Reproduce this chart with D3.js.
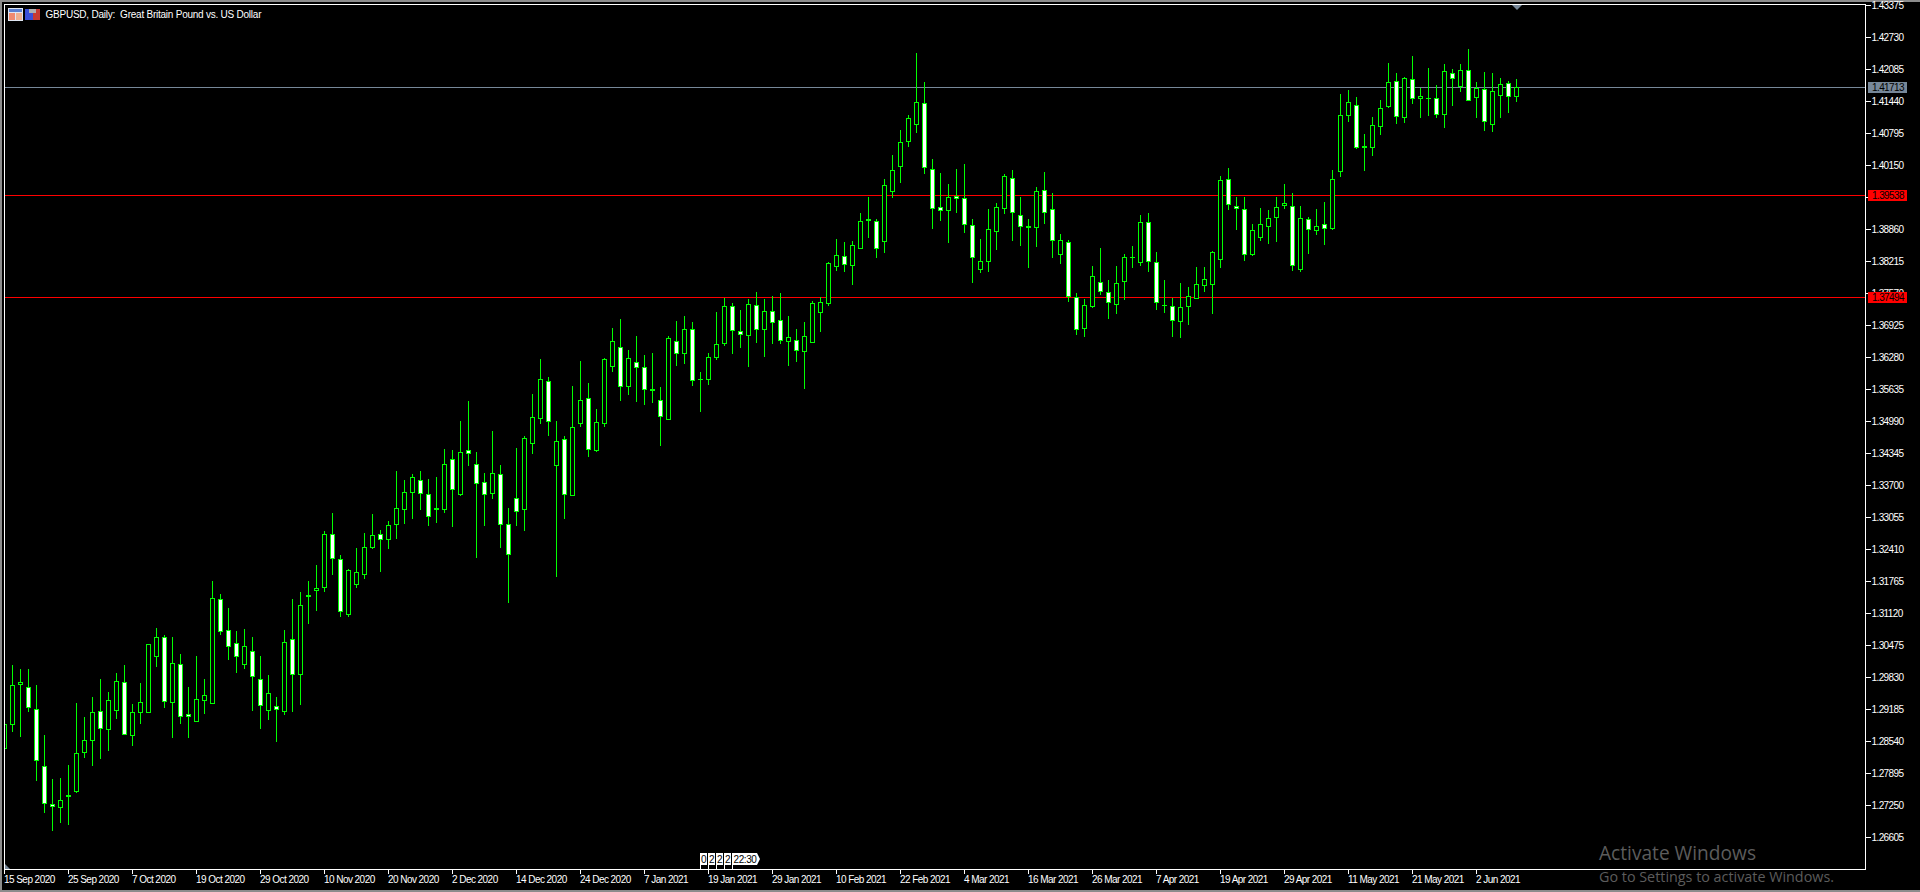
<!DOCTYPE html>
<html><head><meta charset="utf-8">
<script src="https://cdn.jsdelivr.net/npm/d3@7"></script>
<style>
html,body{margin:0;padding:0;background:#000;overflow:hidden}
svg{display:block}
text{font-family:"Liberation Sans",Arial,sans-serif;font-size:10px;white-space:pre}
</style></head><body><div id="c"></div>
<script>
const title="GBPUSD, Daily:  Great Britain Pound vs. US Dollar";
const priceTicks=[1.43375,1.42730,1.42085,1.41440,1.40795,1.40150,1.39505,1.38860,1.38215,1.37570,1.36925,1.36280,1.35635,1.34990,1.34345,1.33700,1.33055,1.32410,1.31765,1.31120,1.30475,1.29830,1.29185,1.28540,1.27895,1.27250,1.26605];
const dateLabels=["15 Sep 2020","25 Sep 2020","7 Oct 2020","19 Oct 2020","29 Oct 2020","10 Nov 2020","20 Nov 2020","2 Dec 2020","14 Dec 2020","24 Dec 2020","7 Jan 2021","19 Jan 2021","29 Jan 2021","10 Feb 2021","22 Feb 2021","4 Mar 2021","16 Mar 2021","26 Mar 2021","7 Apr 2021","19 Apr 2021","29 Apr 2021","11 May 2021","21 May 2021","2 Jun 2021"];
const barsPerDateLabel=8;
const priceLines=[1.41713,1.39538,1.37494];
const priceLineColors=["#778899","#ff0000","#ff0000"];
const opens=[1.28390,1.28874,1.29667,1.29627,1.29183,1.28034,1.27268,1.27201,1.27450,1.27524,1.28310,1.28552,1.29143,1.28774,1.29157,1.29728,1.28653,1.29116,1.29116,1.30245,1.30635,1.29318,1.30091,1.29083,1.28935,1.29358,1.29298,1.31401,1.30776,1.30514,1.30084,1.30353,1.29788,1.29143,1.29244,1.29136,1.30595,1.29869,1.31482,1.31562,
1.31636,1.32711,1.32207,1.31092,1.31696,1.31898,1.32442,1.32711,1.32604,1.32906,1.33208,1.33551,1.33800,1.33517,1.33235,1.33208,1.34223,1.33511,1.34404,1.34122,1.33759,1.33531,1.33921,1.32913,1.33437,1.33208,1.34539,1.35029,1.35795,1.34095,1.34626,1.33491,1.34929,1.35452,1.34398,1.34941,1.36090,1.36480,1.35687,1.36178,
1.36077,1.35640,1.35412,1.35022,1.36601,1.36352,1.36843,1.35828,1.35828,1.36272,1.36554,1.37307,1.36803,1.36715,1.37327,1.36836,1.37206,1.37024,1.36594,1.36621,1.36393,1.36574,1.37179,1.37360,1.38106,1.38315,1.38127,1.38469,1.39061,1.39020,1.38610,1.39618,1.40122,1.40613,1.40969,1.41399,1.40069,1.39303,1.39235,1.39531,
1.39484,1.38940,1.38046,1.38207,1.38812,1.39276,1.39887,1.39141,1.38920,1.38893,1.39645,1.39262,1.38348,1.38597,1.37488,1.36843,1.37300,1.37791,1.37589,1.37327,1.37804,1.38294,1.38187,1.39000,1.38194,1.37320,1.37307,1.36997,1.37300,1.37461,1.37723,1.37743,1.38247,1.39867,1.39323,1.39262,1.38348,1.38691,1.38913,1.39094,
1.39336,1.39323,1.38046,1.39060,1.38832,1.38960,1.38872,1.40021,1.41150,1.41358,1.40532,1.40491,1.40928,1.41331,1.41842,1.41110,1.41882,1.41479,1.41499,1.41499,1.41170,1.42003,1.41735,1.42064,1.41499,1.41681,1.40969,1.41540,1.41802,1.41533];
const closes=[1.28881,1.29667,1.29728,1.29217,1.28149,1.27282,1.27221,1.27349,1.27423,1.28296,1.28558,1.29123,1.28794,1.29365,1.29748,1.28659,1.29123,1.29325,1.30494,1.30635,1.29338,1.30111,1.29022,1.29036,1.29385,1.29466,1.31421,1.30736,1.30433,1.30232,1.30454,1.29829,1.29244,1.29506,1.29163,1.30534,1.29869,1.31280,1.31455,1.31623,
1.32711,1.32207,1.31152,1.31985,1.31945,1.32449,1.32691,1.32604,1.32892,1.33235,1.33558,1.33860,1.33531,1.33067,1.33208,1.34122,1.33612,1.34364,1.34337,1.33732,1.33511,1.33941,1.32906,1.32301,1.33168,1.34646,1.35069,1.35835,1.34982,1.34586,1.33511,1.34868,1.35412,1.34404,1.34968,1.36238,1.36601,1.35687,1.36258,1.36070,
1.35627,1.35607,1.35082,1.36662,1.36352,1.36843,1.35808,1.35842,1.36279,1.36541,1.37307,1.36816,1.36736,1.37347,1.36836,1.37206,1.36977,1.36615,1.36682,1.36413,1.36702,1.37367,1.37387,1.38174,1.38335,1.38147,1.38536,1.39020,1.39020,1.38456,1.39746,1.40048,1.40613,1.41097,1.41419,1.40089,1.39262,1.39235,1.39504,1.39464,
1.38940,1.38288,1.38214,1.38859,1.39303,1.39928,1.39182,1.38913,1.38893,1.39625,1.39195,1.38631,1.38637,1.37488,1.36823,1.37327,1.37912,1.37602,1.37381,1.37770,1.38294,1.38274,1.39000,1.38207,1.37367,1.37327,1.37018,1.37286,1.37508,1.37750,1.37851,1.38395,1.39847,1.39356,1.39275,1.38348,1.38839,1.38960,1.39081,1.39302,
1.39383,1.38126,1.39081,1.38852,1.38919,1.38872,1.39867,1.41157,1.41419,1.40505,1.40491,1.40955,1.41298,1.41822,1.41130,1.41903,1.41493,1.41540,1.41479,1.41170,1.42044,1.41882,1.42064,1.41452,1.41701,1.41016,1.41641,1.41782,1.41520,1.41721];
const highs=[1.28881,1.30077,1.29997,1.29997,1.29667,1.28659,1.27779,1.27799,1.28061,1.29304,1.29029,1.29432,1.29788,1.29533,1.29916,1.30070,1.29291,1.29708,1.30494,1.30816,1.30675,1.30635,1.30299,1.29627,1.30252,1.29788,1.31764,1.31509,1.31220,1.30756,1.30796,1.30635,1.30252,1.29869,1.29425,1.30776,1.31401,1.31542,1.31764,1.32093,
1.32772,1.33134,1.32288,1.32005,1.32429,1.32731,1.33114,1.32792,1.32973,1.33988,1.33800,1.33921,1.33988,1.33820,1.33860,1.34425,1.34404,1.34989,1.35398,1.34364,1.33941,1.34794,1.34102,1.33235,1.34452,1.34687,1.35539,1.36245,1.35875,1.34995,1.34693,1.35701,1.36205,1.35761,1.35237,1.36258,1.36870,1.37051,1.36426,1.36709,
1.36326,1.36366,1.35680,1.36702,1.37011,1.37112,1.36991,1.35983,1.36366,1.37192,1.37475,1.37367,1.37233,1.37448,1.37596,1.37448,1.37515,1.37576,1.37112,1.36850,1.36991,1.37408,1.37488,1.38194,1.38657,1.38604,1.38617,1.39188,1.39504,1.39061,1.39867,1.40351,1.40855,1.41157,1.42407,1.41829,1.40270,1.39988,1.39766,1.40069,
1.40169,1.39061,1.38657,1.39269,1.39383,1.39968,1.40048,1.39504,1.39061,1.39706,1.40008,1.39585,1.38758,1.38637,1.37569,1.37448,1.38113,1.38476,1.37831,1.38113,1.38355,1.38523,1.39141,1.39181,1.38395,1.37831,1.37475,1.37770,1.37690,1.38093,1.38093,1.38415,1.39927,1.40089,1.39504,1.39504,1.38960,1.39282,1.39242,1.39504,
1.39766,1.39585,1.39323,1.39101,1.39262,1.39403,1.40048,1.41587,1.41661,1.41520,1.40780,1.41116,1.41459,1.42212,1.42010,1.41929,1.42353,1.41708,1.42111,1.41761,1.42192,1.42084,1.42192,1.42494,1.41829,1.42030,1.42010,1.41909,1.41849,1.41889];
const lows=[1.28390,1.28726,1.28626,1.29130,1.27739,1.27094,1.26731,1.26892,1.26852,1.27497,1.28202,1.28041,1.28182,1.28343,1.28989,1.28659,1.28444,1.28888,1.29116,1.30037,1.29210,1.28606,1.28888,1.28606,1.28935,1.29089,1.29298,1.30682,1.30178,1.29916,1.29997,1.29150,1.28787,1.28968,1.28525,1.29069,1.29130,1.29271,1.30904,1.31166,
1.31548,1.31891,1.31044,1.31044,1.31629,1.31811,1.32415,1.31952,1.32415,1.32617,1.32919,1.33020,1.33202,1.32879,1.32940,1.33141,1.32859,1.33484,1.34089,1.32234,1.32879,1.33423,1.32436,1.31327,1.32879,1.32778,1.34331,1.34935,1.34693,1.31851,1.33020,1.33491,1.34875,1.34270,1.34371,1.34875,1.35990,1.35398,1.35519,1.35378,
1.35318,1.35358,1.34491,1.35015,1.36104,1.36144,1.35701,1.35176,1.35721,1.36225,1.36507,1.36346,1.36467,1.36084,1.36568,1.36285,1.36547,1.36547,1.36104,1.36184,1.35640,1.36574,1.36789,1.37313,1.38019,1.37999,1.37737,1.38469,1.38684,1.38281,1.38382,1.39491,1.39793,1.40519,1.40801,1.39975,1.38866,1.39027,1.38584,1.39188,
1.38785,1.37777,1.37979,1.37999,1.38442,1.39168,1.38624,1.38523,1.38080,1.38503,1.38967,1.38281,1.38160,1.37394,1.36729,1.36688,1.37280,1.37535,1.37051,1.37152,1.37434,1.38079,1.38120,1.37999,1.37233,1.37172,1.36688,1.36668,1.36930,1.37454,1.37595,1.37152,1.38079,1.39249,1.38845,1.38220,1.38321,1.38624,1.38563,1.38603,
1.39269,1.38019,1.37999,1.38362,1.38745,1.38543,1.38845,1.39914,1.41022,1.40478,1.40035,1.40337,1.40760,1.41305,1.40982,1.41002,1.41385,1.41103,1.41143,1.41103,1.40901,1.41345,1.41627,1.41452,1.41103,1.40841,1.40821,1.41103,1.41204,1.41425];
const separators=["0","2","2","2"];
const sepTime="22:30";
const sepBars=[87,88,89,90];

const W=1920,H=892;
const svg=d3.select("#c").append("svg").attr("width",W).attr("height",H).style("background","#000");
const y=d3.scaleLinear().domain([1.43375,1.26605]).range([5.3,837.3]);
const yAxisScale=y.copy().range([5,837]);
const x=d3.scaleLinear().domain([0,100]).range([4,804]);
const GREEN="#00ff00";

// chrome
svg.append("rect").attr("x",0).attr("y",0).attr("width",W).attr("height",2).attr("fill","#8c8c8c");
svg.append("rect").attr("x",0).attr("y",0).attr("width",2).attr("height",H).attr("fill","#8c8c8c");
svg.append("rect").attr("x",0).attr("y",890).attr("width",W).attr("height",2).attr("fill","#8c8c8c");

svg.append("defs").append("clipPath").attr("id","plot").append("rect").attr("x",5).attr("y",5).attr("width",1860).attr("height",864);

const plot=svg.append("g").attr("clip-path","url(#plot)");
// price lines
plot.selectAll("line.pl").data(priceLines).join("line").attr("class","pl")
  .attr("x1",5).attr("x2",1865)
  .attr("y1",d=>Math.floor(y(d))+.5).attr("y2",d=>Math.floor(y(d))+.5)
  .attr("stroke",(d,i)=>priceLineColors[i]).attr("stroke-width",1).attr("shape-rendering","crispEdges");

// candles
const bars=d3.range(opens.length);
const g=plot.selectAll("g.c").data(bars).join("g").attr("class","c").attr("shape-rendering","crispEdges");
g.append("line")
  .attr("x1",i=>x(i)+.5).attr("x2",i=>x(i)+.5)
  .attr("y1",i=>Math.round(y(highs[i]))).attr("y2",i=>Math.round(y(lows[i])))
  .attr("stroke",GREEN);
g.each(function(i){
  const top=Math.round(y(Math.max(opens[i],closes[i])));
  const bot=Math.round(y(Math.min(opens[i],closes[i])));
  const s=d3.select(this);
  if(bot-top<=2){
    s.append("rect").attr("x",x(i)-2).attr("y",top).attr("width",5).attr("height",Math.max(1,bot-top)).attr("fill",GREEN);
  }else{
    s.append("rect").attr("x",x(i)-1.5).attr("y",top+.5).attr("width",4).attr("height",bot-top-1)
      .attr("fill",closes[i]>opens[i]?"#000":"#fff").attr("stroke",GREEN).attr("stroke-width",1);
  }
});

// frame
const frame=svg.append("g").attr("shape-rendering","crispEdges");
frame.append("rect").attr("x",4.5).attr("y",4.5).attr("width",1861).attr("height",865).attr("fill","none").attr("stroke","#fff");

// axes
const fmt=d3.format(".5f");
const yAxis=d3.axisRight(yAxisScale).tickValues(priceTicks).tickFormat(fmt).tickSize(5).tickPadding(1);
const ya=svg.append("g").attr("transform","translate(1865.5,0)").call(yAxis);
ya.select(".domain").remove();
ya.selectAll("line").attr("stroke","#fff").attr("shape-rendering","crispEdges");
ya.selectAll("text").attr("fill","#fff").style("font-family",'"Liberation Sans"').style("font-size","10px").style("letter-spacing","-0.6px");

const tickBars=dateLabels.map((d,i)=>i*barsPerDateLabel);
const xAxis=d3.axisBottom(x).tickValues(tickBars).tickFormat((d,i)=>dateLabels[i]).tickSize(4).tickPadding(2);
const xa=svg.append("g").attr("transform","translate(0,869.5)").call(xAxis);
xa.select(".domain").remove();
xa.selectAll("line").attr("stroke","#fff").attr("shape-rendering","crispEdges");
xa.selectAll("text").attr("fill","#fff").attr("text-anchor","start").attr("x",-0.5).style("font-family",'"Liberation Sans"').style("font-size","10px").style("letter-spacing","-0.55px");

// price labels
const pl=svg.selectAll("g.plabel").data(priceLines).join("g").attr("class","plabel");
pl.append("rect").attr("x",1868).attr("width",39).attr("height",11)
  .attr("y",d=>Math.floor(y(d))-5).attr("fill",(d,i)=>priceLineColors[i]);
pl.append("text").attr("x",1872).attr("y",d=>Math.floor(y(d))+4).attr("fill","#000")
  .style("letter-spacing","-0.6px").text(d=>fmt(d));

// title + icons
svg.append("text").attr("x",45.5).attr("y",18).attr("fill","#fff").attr("textLength",216).attr("lengthAdjust","spacing").text(title);
const ic=svg.append("g").attr("shape-rendering","crispEdges");
ic.append("rect").attr("x",8).attr("y",8).attr("width",15).attr("height",13).attr("fill","#dfe6f2");
ic.append("rect").attr("x",9).attr("y",9).attr("width",13).attr("height",3).attr("fill","#5b7fd0");
ic.append("rect").attr("x",9).attr("y",13).attr("width",6).attr("height",7).attr("fill","#f08a70");
ic.append("rect").attr("x",16).attr("y",13).attr("width",6).attr("height",7).attr("fill","#f0b090");
ic.append("rect").attr("x",25).attr("y",9).attr("width",8).attr("height",11).attr("fill","#3a50d8");
ic.append("rect").attr("x",33).attr("y",9).attr("width",7).attr("height",11).attr("fill","#c83a32");
ic.append("rect").attr("x",29).attr("y",9).attr("width",7).attr("height",4).attr("fill","#b0b0b0");

// top current-bar marker and corner marker
svg.append("path").attr("d",d3.line()([[1512,5],[1522,5],[1517,10]])).attr("fill","#778899");
svg.append("path").attr("d",d3.line()([[5,864],[5,869],[10,869]])).attr("fill","#778899");

// bar-time separators
const sep=svg.append("g");
sep.selectAll("g").data(sepBars).join("g").each(function(b,i){
  const s=d3.select(this),px=x(b);
  s.append("rect").attr("x",px).attr("y",853).attr("width",7).attr("height",12).attr("fill","#fff").attr("shape-rendering","crispEdges");
  s.append("rect").attr("x",px).attr("y",865).attr("width",1).attr("height",4).attr("fill","#fff").attr("shape-rendering","crispEdges");
  s.append("text").attr("x",px+1).attr("y",863).attr("fill","#000").text(separators[i]);
});
{
  const px=x(sepBars[sepBars.length-1]+1);
  sep.append("path").attr("d",d3.line()([[px,853],[px+25,853],[px+28,859],[px+25,865],[px,865]])).attr("fill","#fff");
  sep.append("rect").attr("x",px).attr("y",865).attr("width",1).attr("height",4).attr("fill","#fff");
  sep.append("text").attr("x",px+1.5).attr("y",863).attr("fill","#000").style("letter-spacing","-0.4px").text(sepTime);
}

// watermark
svg.append("text").attr("x",1599).attr("y",860).attr("fill","#5c5c5c").attr("textLength",157).attr("lengthAdjust","spacingAndGlyphs")
  .style("font-family",'"Open Sans"').style("font-size","20px").text("Activate Windows");
svg.append("text").attr("x",1599).attr("y",882).attr("fill","#5c5c5c").attr("textLength",235).attr("lengthAdjust","spacingAndGlyphs")
  .style("font-family",'"Open Sans"').style("font-size","14.5px").text("Go to Settings to activate Windows.");
</script></body></html>
